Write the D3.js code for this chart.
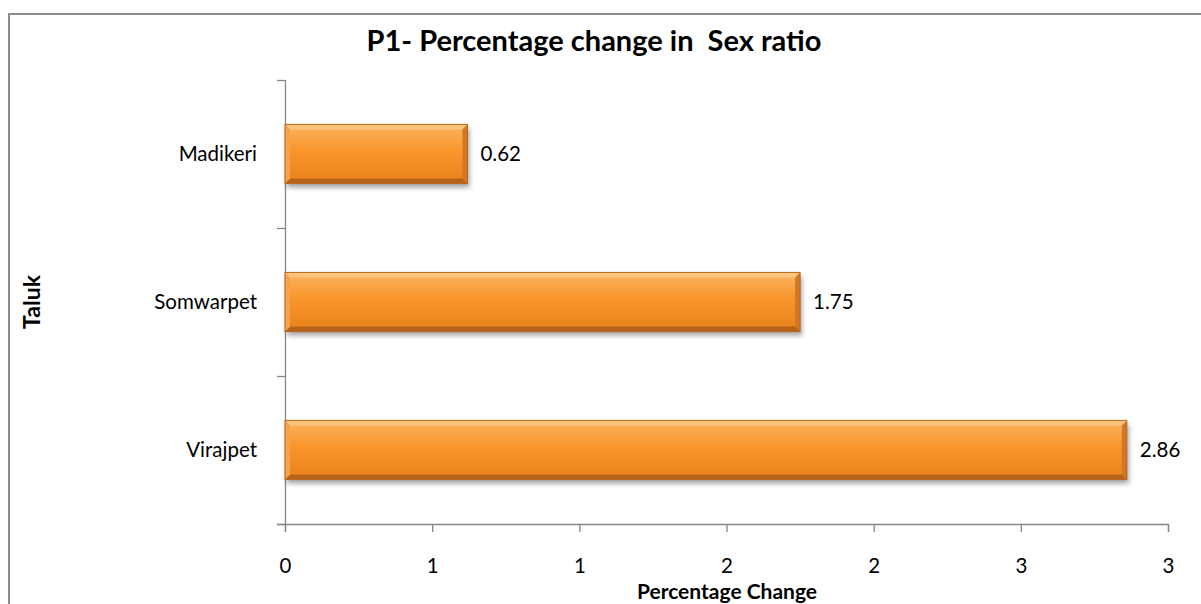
<!DOCTYPE html>
<html>
<head>
<meta charset="utf-8">
<script src="https://cdn.jsdelivr.net/npm/d3@7"></script>
<style>
  html, body { margin: 0; padding: 0; background: #fff; }
  svg { display: block; font-family: Lato, "Open Sans", sans-serif; }
</style>
</head>
<body>
<svg id="chart" width="1201" height="604"></svg>
<script>
const categories = ["Madikeri", "Somwarpet", "Virajpet"];
const values = [0.62, 1.75, 2.86];
const valueLabels = ["0.62", "1.75", "2.86"];
const tickValues = [0, 0.5, 1, 1.5, 2, 2.5, 3];
const tickLabels = ["0", "1", "1", "2", "2", "3", "3"];
const title = "P1- Percentage change in  Sex ratio";
const xTitle = "Percentage Change";
const yTitle = "Taluk";

const svg = d3.select("#chart");
const defs = svg.append("defs");

const grad = defs.append("linearGradient").attr("id", "barGrad")
  .attr("x1", 0).attr("y1", 0).attr("x2", 0).attr("y2", 1);
grad.append("stop").attr("offset", "0%").attr("stop-color", "#fbb464");
grad.append("stop").attr("offset", "45%").attr("stop-color", "#f8952b");
grad.append("stop").attr("offset", "100%").attr("stop-color", "#e8821c");

const blur = defs.append("filter").attr("id", "shadow")
  .attr("x", "-10%").attr("y", "-30%").attr("width", "120%").attr("height", "170%");
blur.append("feGaussianBlur").attr("stdDeviation", 2.5);

// frame
svg.append("path")
  .attr("d", "M9,620 L9,14 L1210,14")
  .attr("fill", "none").attr("stroke", "#8c8c8c").attr("stroke-width", 2);

const x = d3.scaleLinear().domain([0, 3]).range([285, 1168]);
const y = d3.scaleBand().domain(categories).range([80, 524])
  .paddingInner(0.6).paddingOuter(0.3);

const fs = 20.5;

// axes
const xAxis = d3.axisBottom(x).tickValues(tickValues)
  .tickFormat((d, i) => tickLabels[i]).tickSize(8).tickSizeOuter(8).tickPadding(0);
const gx = svg.append("g").attr("transform", "translate(0,524)").call(xAxis);
gx.select(".domain").attr("stroke", "#868686").attr("stroke-width", 1.3)
  .attr("d", "M277,0.5H1168.5V8");
gx.selectAll(".tick line").attr("stroke", "#868686").attr("stroke-width", 1.3);
gx.selectAll(".tick text").attr("font-size", fs).attr("fill", "#000")
  .attr("font-family", "Lato, sans-serif").attr("dy", null).attr("y", 49);

const yBounds = [80, 228, 376, 524];
const gy = svg.append("g");
gy.append("line").attr("x1", 285.5).attr("x2", 285.5).attr("y1", 80).attr("y2", 532)
  .attr("stroke", "#868686").attr("stroke-width", 1.3);
gy.selectAll(".yt").data(yBounds).join("line")
  .attr("x1", 277).attr("x2", 285.5)
  .attr("y1", d => d + 0.5).attr("y2", d => d + 0.5)
  .attr("stroke", "#868686").attr("stroke-width", 1.3);
gy.selectAll(".yl").data(categories).join("text")
  .attr("x", 257).attr("y", d => y(d) + y.bandwidth() / 2 + 7)
  .attr("text-anchor", "end")
  .attr("font-size", fs).attr("fill", "#000").text(d => d);

// bars
const bars = svg.append("g").selectAll("g").data(categories).join("g");
const bw = y.bandwidth();
const bev = 5;
bars.append("rect")
  .attr("x", x(0) + 2).attr("y", d => y(d) + 4)
  .attr("width", (d, i) => x(values[i]) - x(0))
  .attr("height", bw)
  .attr("fill", "#000").attr("opacity", 0.35).attr("filter", "url(#shadow)");
bars.append("rect")
  .attr("x", x(0)).attr("y", d => y(d))
  .attr("width", (d, i) => x(values[i]) - x(0))
  .attr("height", bw).attr("fill", "url(#barGrad)");
bars.append("path").attr("fill", "#fcc57f").attr("opacity", 0.9)
  .attr("d", (d, i) => {
    const x0 = x(0), x1 = x(values[i]), t = y(d);
    return `M${x0},${t}L${x1},${t}L${x1 - bev},${t + bev}L${x0 + bev},${t + bev}Z`;
  });
bars.append("path").attr("fill", "#b5621a")
  .attr("d", (d, i) => {
    const x0 = x(0), x1 = x(values[i]), b = y(d) + bw;
    return `M${x0},${b}L${x1},${b}L${x1 - bev},${b - bev}L${x0 + bev},${b - bev}Z`;
  });
bars.append("path").attr("fill", "#d27723")
  .attr("d", (d, i) => {
    const x1 = x(values[i]), t = y(d), b = y(d) + bw;
    return `M${x1},${t}L${x1},${b}L${x1 - bev},${b - bev}L${x1 - bev},${t + bev}Z`;
  });
bars.append("path").attr("fill", "#f5a24a")
  .attr("d", (d, i) => {
    const x0 = x(0), t = y(d), b = y(d) + bw;
    return `M${x0},${t}L${x0},${b}L${x0 + bev},${b - bev}L${x0 + bev},${t + bev}Z`;
  });
bars.append("rect")
  .attr("x", x(0)).attr("y", d => y(d))
  .attr("width", (d, i) => x(values[i]) - x(0))
  .attr("height", bw).attr("fill", "none").attr("stroke", "#b8661c").attr("stroke-width", 1);

// value labels
bars.append("text")
  .attr("x", (d, i) => x(values[i]) + 13)
  .attr("y", d => y(d) + bw / 2 + 7)
  .attr("font-size", fs).attr("fill", "#000")
  .text((d, i) => valueLabels[i]);

// titles
svg.append("text").attr("x", 594).attr("y", 51)
  .attr("text-anchor", "middle")
  .attr("font-size", 29).attr("font-weight", "bold").attr("fill", "#000")
  .style("white-space", "pre").text(title);
svg.append("text").attr("x", 727).attr("y", 599)
  .attr("text-anchor", "middle")
  .attr("font-size", 21).attr("font-weight", "bold").attr("fill", "#000").text(xTitle);
svg.append("text").attr("transform", "translate(40,302) rotate(-90)")
  .attr("text-anchor", "middle")
  .attr("font-size", 23).attr("font-weight", "bold").attr("fill", "#000").text(yTitle);
</script>
</body>
</html>
